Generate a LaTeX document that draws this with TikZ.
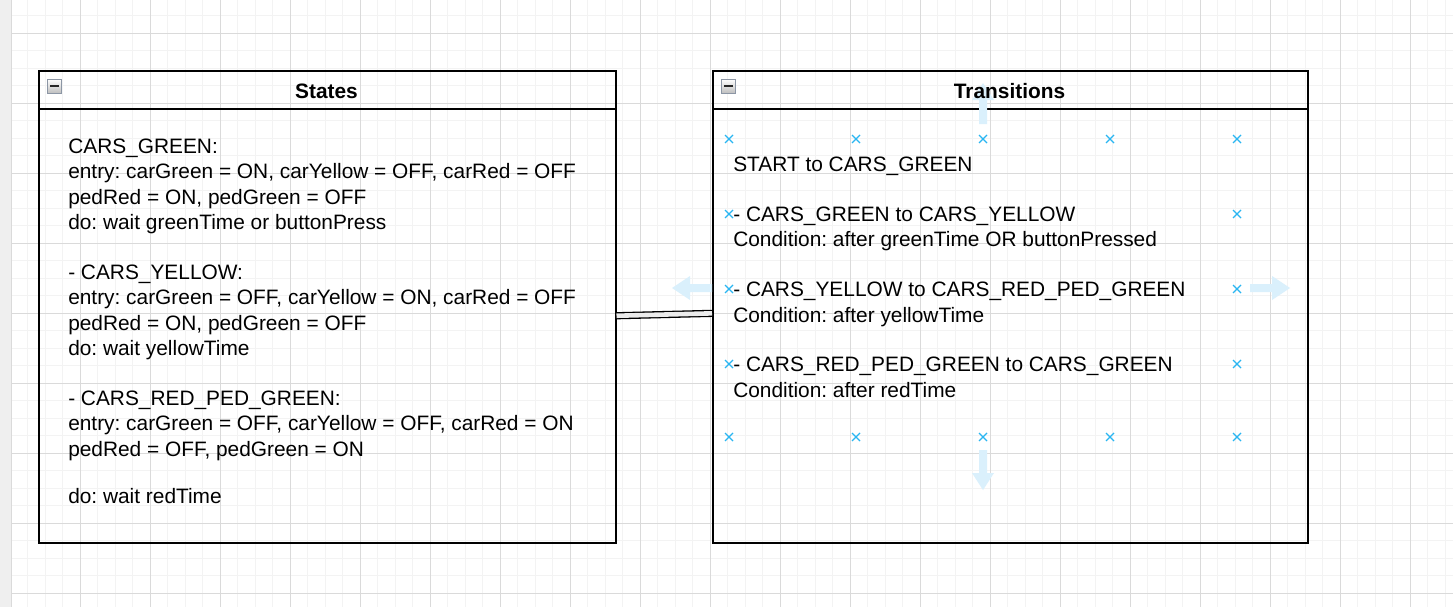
\documentclass[tikz,border=0pt]{standalone}
\usepackage{fontspec}
\setmainfont{Liberation Sans}
\frenchspacing
\definecolor{minorg}{RGB}{243,243,243}
\definecolor{majorg}{RGB}{218,218,218}
\definecolor{stripg}{RGB}{239,239,239}
\definecolor{hint}{RGB}{41,182,242}
\definecolor{ghost}{RGB}{218,240,252}
\definecolor{iconb}{RGB}{140,150,165}
\begin{document}
\frenchspacing
\begin{tikzpicture}[x=0.75pt,y=-0.75pt,
  lane/.style={draw=black,line width=1.5pt*0.75,minimum height=472*0.75pt,inner sep=0pt,anchor=north west},
  body/.style={font=\fontsize{15.65pt}{18pt}\selectfont,anchor=base west,inner sep=0pt},
  title/.style={font=\fontsize{15.65pt}{18pt}\selectfont\bfseries,anchor=base,inner sep=0pt},
  xmark/.style={draw=hint,line width=1.2pt*0.75},
  ghostarrow/.style={fill=ghost,draw=none}]
\useasboundingbox (0,0) rectangle (1453,607);
\fill[white] (0,0) rectangle (1453,607);
% grid
\foreach \k in {-3,...,78} \draw[minorg,line width=0.75pt] ({80+17.5*\k},0) -- ({80+17.5*\k},607);
\foreach \k in {-1,...,32} \draw[minorg,line width=0.75pt] (12,{33+17.5*\k}) -- (1453,{33+17.5*\k});
\foreach \k in {0,...,19} \draw[majorg,line width=0.75pt] ({80+70*\k},0) -- ({80+70*\k},607);
\foreach \k in {0,...,8} \draw[majorg,line width=0.75pt] (12,{33+70*\k}) -- (1453,{33+70*\k});
\fill[stripg] (0,0) rectangle (11.5,607);
\draw[majorg,line width=0.75pt] (11.5,0) -- (11.5,607);
% lanes
\node[lane,minimum width=577*0.75pt] (states) at (38,70) {};
\node[lane,minimum width=595*0.75pt] (trans) at (712,70) {};
\draw[line width=1.5pt*0.75] (38,109) -- (615,109);
\draw[line width=1.5pt*0.75] (712,109) -- (1307,109);
% collapse icons
\foreach \x/\n in {47/ia,721/ib}{
  \node[draw=iconb,line width=0.75pt,minimum size=14*0.75pt,inner sep=0pt,anchor=north west,
        top color=white,bottom color=black!25] (\n) at (\x,78.5) {};
  \draw[black!85,line width=2*0.75pt] ([xshift=2.2pt]\n.west) -- ([xshift=-2.2pt]\n.east);
}
% connector
\draw[line width=1.3*0.75pt,double=black!8,double distance=4.6*0.75pt]
  ([yshift=-9*0.75pt]states.east) -- ([yshift=-6.6*0.75pt]trans.west);
% ghost arrows
\fill[ghostarrow] (979,124) -- (979,100) -- (972,100) -- (983,83) -- (994,100) -- (987,100) -- (987,124) -- cycle;
\fill[ghostarrow] (712,284) -- (690,284) -- (690,276) -- (672,288) -- (690,300) -- (690,292) -- (712,292) -- cycle;
\fill[ghostarrow] (1250,284) -- (1272,284) -- (1272,276) -- (1290,288) -- (1272,300) -- (1272,292) -- (1250,292) -- cycle;
\fill[ghostarrow] (979,450) -- (979,473) -- (972,473) -- (983,490) -- (994,473) -- (987,473) -- (987,450) -- cycle;
% hint crosses
\foreach \x/\y in {729/139,856/139,983/139,1110/139,1237/139,729/214,1237/214,729/289,1237/289,729/364,1237/364,729/437,856/437,983/437,1110/437,1237/437}
  \draw[xmark] (\x-4,\y-4) -- (\x+4,\y+4) (\x-4,\y+4) -- (\x+4,\y-4);
% titles
\node[title] (tstates) at (326.5,98) {States};
\node[title] (ttrans) at (1009.5,98) {Transitions};
% states text
\foreach \y/\t [count=\i] in {153/{CARS\_GREEN:},178/{entry: carGreen = ON, carYellow = OFF, carRed = OFF},204/{pedRed = ON, pedGreen = OFF},229/{do: wait greenTime or buttonPress},279/{- CARS\_YELLOW:},304/{entry: carGreen = OFF, carYellow = ON, carRed = OFF},330/{pedRed = ON, pedGreen = OFF},355/{do: wait yellowTime},405/{- CARS\_RED\_PED\_GREEN:},430/{entry: carGreen = OFF, carYellow = OFF, carRed = ON},456/{pedRed = OFF, pedGreen = ON},503/{do: wait redTime}}
  \node[body] (s\i) at (68,\y) {\t};
% transitions text
\foreach \y/\t [count=\i] in {171/{START to CARS\_GREEN},221/{- CARS\_GREEN to CARS\_YELLOW},246/{Condition: after greenTime OR buttonPressed},296/{- CARS\_YELLOW to CARS\_RED\_PED\_GREEN},322/{Condition: after yellowTime},371/{- CARS\_RED\_PED\_GREEN to CARS\_GREEN},397/{Condition: after redTime}}
  \node[body] (t\i) at (733,\y) {\t};
\end{tikzpicture}
\end{document}
